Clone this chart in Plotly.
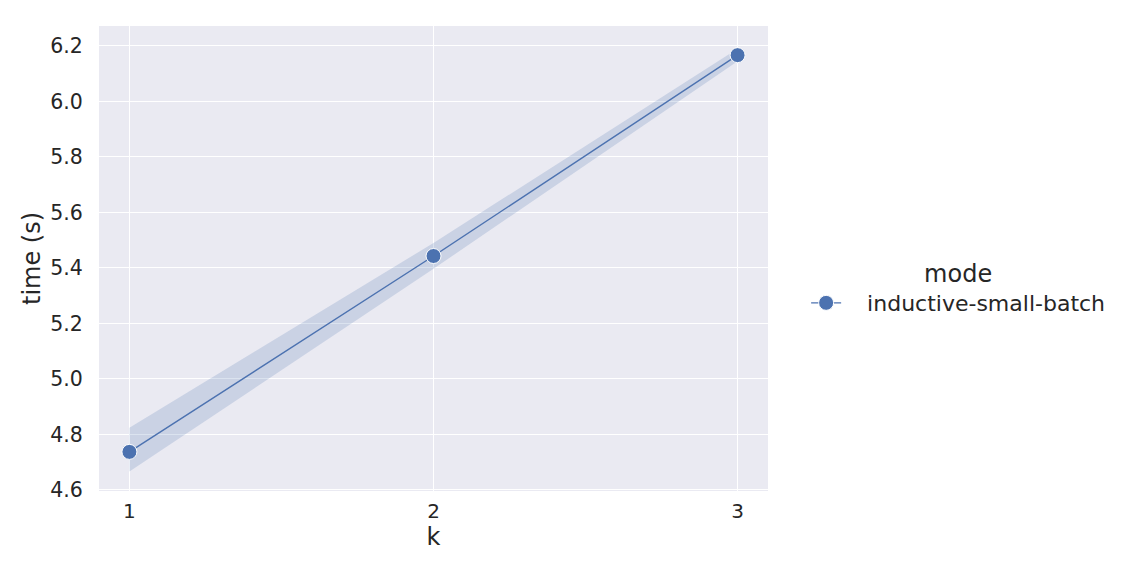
import plotly.graph_objects as go

k = [1, 2, 3]
time_mean = [4.737, 5.443, 6.167]
ci_upper = [4.824, 5.490, 6.190]
ci_lower = [4.666, 5.397, 6.145]
series_name = "inductive-small-batch"
y_ticks = [4.6, 4.8, 5.0, 5.2, 5.4, 5.6, 5.8, 6.0, 6.2]

color = "#4C72B0"
fig = go.Figure()
fig.add_trace(go.Scatter(x=k, y=ci_upper, mode="lines", line=dict(width=0),
                         showlegend=False, hoverinfo="skip"))
fig.add_trace(go.Scatter(x=k, y=ci_lower, mode="lines", line=dict(width=0),
                         fill="tonexty", fillcolor="rgba(76,114,176,0.2)",
                         showlegend=False, hoverinfo="skip"))
fig.add_trace(go.Scatter(x=k, y=time_mean, mode="lines+markers",
                         name="\u00a0\u00a0\u00a0" + series_name,
                         line=dict(color=color, width=1.4),
                         marker=dict(size=15, color=color, line=dict(color="white", width=1))))

fig.update_layout(
    width=1116, height=568,
    margin=dict(l=91, r=356, t=18, b=85),
    plot_bgcolor="#EAEAF2", paper_bgcolor="white",
    font=dict(family="DejaVu Sans", size=20, color="#262626"),
    legend=dict(title=dict(text="mode", side="top center", font=dict(size=24)),
                x=1.057, y=0.438, xanchor="left", yanchor="middle",
                font=dict(size=22), bgcolor="rgba(0,0,0,0)"),
    showlegend=True,
)
fig.update_xaxes(range=[0.9, 3.1], tickvals=k, ticktext=[str(v) for v in k],
                 showgrid=True, gridcolor="white", gridwidth=1, zeroline=False,
                 title=dict(text="k", font=dict(size=24), standoff=2),
                 ticks="", tickfont=dict(size=20), ticklabelstandoff=6)
fig.update_yaxes(range=[4.596, 6.272], tickvals=y_ticks,
                 ticktext=[f"{v:.1f}" for v in y_ticks],
                 showgrid=True, gridcolor="white", gridwidth=1, zeroline=False,
                 title=dict(text="time (s)", font=dict(size=24), standoff=2),
                 ticks="outside", ticklen=11, tickcolor="rgba(0,0,0,0)",
                 tickfont=dict(size=20.5))

fig.write_html("out.html")
